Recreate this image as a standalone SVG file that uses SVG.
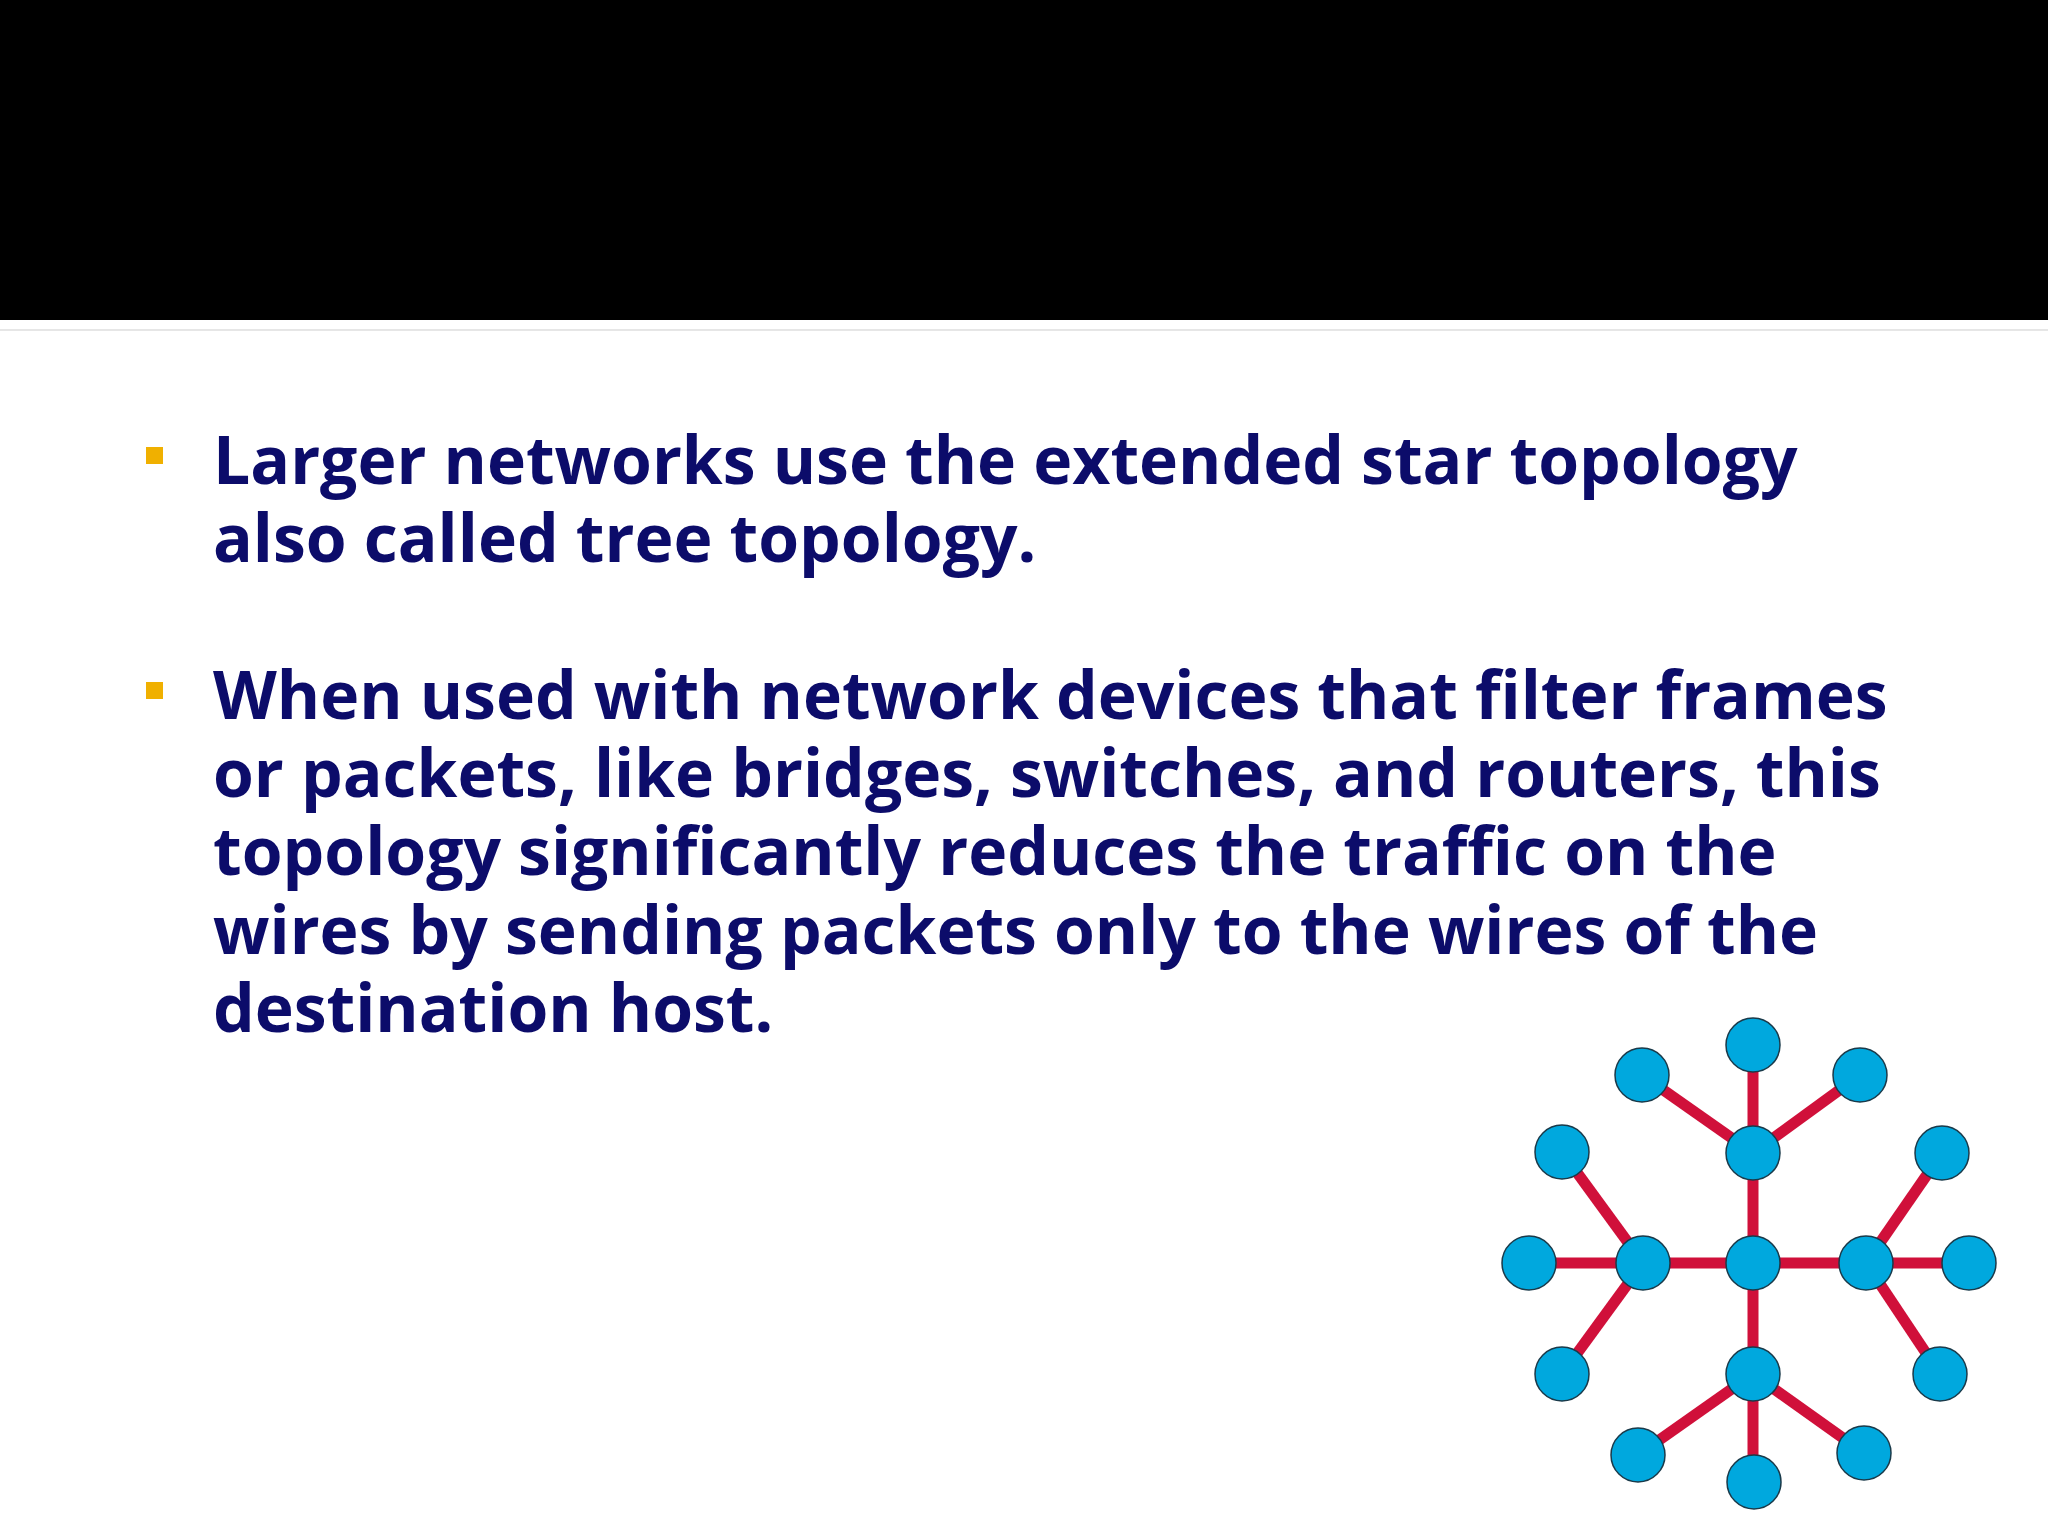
<svg xmlns="http://www.w3.org/2000/svg" width="2048" height="1536" viewBox="0 0 2048 1536">
<style>
.t{font-family:"Open Sans","Noto Sans",sans-serif;font-weight:bold;font-size:66px;fill:#0C0C6A}
.b{fill:#F0B000}
.n{fill:#00A8DE;stroke:#1a3a4a;stroke-width:1.5}
.e{stroke:#D0103A;stroke-width:11;fill:none}
</style>
<rect width="2048" height="1536" fill="#fff"/>
<rect width="2048" height="320" fill="#000"/>
<rect y="329" width="2048" height="2" fill="#e6e6e6"/>
<g id="text">
<rect class="b" x="146" y="447" width="17" height="17"/>
<text class="t" x="213" y="484">Larger networks use the extended star topology</text>
<text class="t" x="213" y="562">also called tree topology.</text>
<rect class="b" x="146" y="682" width="17" height="17"/>
<text class="t" x="213" y="719">When used with network devices that filter frames</text>
<text class="t" x="213" y="797">or packets, like bridges, switches, and routers, this</text>
<text class="t" x="213" y="875">topology significantly reduces the traffic on the</text>
<text class="t" x="213" y="954">wires by sending packets only to the wires of the</text>
<text class="t" x="213" y="1032">destination host.</text>
</g>
<g id="connectors">
<line class="e" x1="1529" y1="1263" x2="1969" y2="1263"/>
<line class="e" x1="1753" y1="1045" x2="1753" y2="1482"/>
<line class="e" x1="1642" y1="1075" x2="1753" y2="1153"/>
<line class="e" x1="1860" y1="1075" x2="1753" y2="1153"/>
<line class="e" x1="1562" y1="1152" x2="1643" y2="1263"/>
<line class="e" x1="1562" y1="1374" x2="1643" y2="1263"/>
<line class="e" x1="1942" y1="1153" x2="1866" y2="1263"/>
<line class="e" x1="1940" y1="1374" x2="1866" y2="1263"/>
<line class="e" x1="1638" y1="1455" x2="1753" y2="1374"/>
<line class="e" x1="1864" y1="1453" x2="1753" y2="1374"/>
</g>
<g id="center"><circle class="n" cx="1753" cy="1263" r="27"/></g>
<g id="hubL"><circle class="n" cx="1643" cy="1263" r="27"/></g>
<g id="hubR"><circle class="n" cx="1866" cy="1263" r="27"/></g>
<g id="hubT"><circle class="n" cx="1753" cy="1153" r="27"/></g>
<g id="hubB"><circle class="n" cx="1753" cy="1374" r="27"/></g>
<g id="t1"><circle class="n" cx="1753" cy="1045" r="27"/></g>
<g id="t2"><circle class="n" cx="1642" cy="1075" r="27"/></g>
<g id="t3"><circle class="n" cx="1860" cy="1075" r="27"/></g>
<g id="l1"><circle class="n" cx="1562" cy="1152" r="27"/></g>
<g id="l2"><circle class="n" cx="1529" cy="1263" r="27"/></g>
<g id="l3"><circle class="n" cx="1562" cy="1374" r="27"/></g>
<g id="r1"><circle class="n" cx="1942" cy="1153" r="27"/></g>
<g id="r2"><circle class="n" cx="1969" cy="1263" r="27"/></g>
<g id="r3"><circle class="n" cx="1940" cy="1374" r="27"/></g>
<g id="b1"><circle class="n" cx="1638" cy="1455" r="27"/></g>
<g id="b2"><circle class="n" cx="1754" cy="1482" r="27"/></g>
<g id="b3"><circle class="n" cx="1864" cy="1453" r="27"/></g>
</svg>
